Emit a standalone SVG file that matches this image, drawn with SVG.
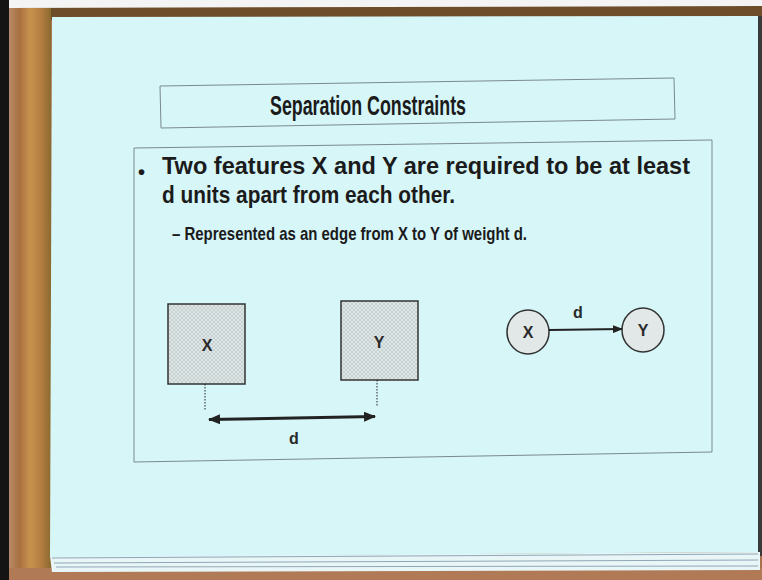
<svg xmlns="http://www.w3.org/2000/svg" width="762" height="580" viewBox="0 0 762 580">
<defs>
<style>
.t{font-family:"Liberation Sans",Arial,sans-serif;font-weight:bold;fill:#1b1b1b}
.lbl{font-family:"Liberation Sans",Arial,sans-serif;font-weight:bold;fill:#2a2a2a;font-size:16px;text-anchor:middle}
.box{stroke:#333;stroke-width:1.5;fill:url(#stip)}
.circ{stroke:#333;stroke-width:1.5;fill:#e2e8e8}
.frame{fill:none;stroke:#7a8a8c;stroke-width:1}
.conn{stroke:#222;fill:none}
</style>
<pattern id="stip" width="4" height="4" patternUnits="userSpaceOnUse">
<rect width="4" height="4" fill="#dfe6e6"/>
<path d="M0 0L4 4M4 0L0 4" stroke="#b9c3c4" stroke-width="0.6"/>
</pattern>
<linearGradient id="wood" x1="0" y1="0" x2="1" y2="0">
<stop offset="0" stop-color="#b88a6a"/>
<stop offset="0.25" stop-color="#a87040"/>
<stop offset="0.5" stop-color="#c8924e"/>
<stop offset="0.8" stop-color="#b07a3e"/>
<stop offset="1" stop-color="#8a6a30"/>
</linearGradient>
<marker id="ah" markerWidth="10" markerHeight="8" refX="9" refY="4" orient="auto-start-reverse" markerUnits="userSpaceOnUse">
<path d="M0 0L10 4L0 8Z" fill="#222"/>
</marker>
<marker id="ah2" markerWidth="12" markerHeight="10" refX="11" refY="5" orient="auto-start-reverse" markerUnits="userSpaceOnUse">
<path d="M0 0L12 5L0 10Z" fill="#222"/>
</marker>
</defs>
<!-- backdrop -->
<rect width="762" height="580" fill="#a8714a"/>
<rect x="0" y="0" width="762" height="8" fill="#f4f4f4"/>
<rect x="0" y="0" width="9" height="580" fill="#141414"/>
<path d="M9 8L762 6L762 18L9 20Z" fill="#6e4e2a"/>
<rect x="9" y="8" width="42" height="562" fill="url(#wood)"/>
<rect x="9" y="568" width="753" height="12" fill="#b07a56"/>
<rect x="758" y="16" width="4" height="540" fill="#3a3a3a"/>
<!-- paper stack -->
<path d="M50 556L760 552L760 570L52 572Z" fill="#e8f6f8"/>
<path d="M52 558L758 554M54 563L758 560M56 567L758 566" stroke="#8fa6b4" stroke-width="1" fill="none"/>
<!-- slide -->
<path d="M52 17L758 16L758 552L50 557Z" fill="#d6f6f8"/>
<g id="title">
<path class="frame" d="M160 86L674 78L675 119L161 128Z"/>
<text class="t" x="368" y="115" font-size="27" text-anchor="middle" textLength="196" lengthAdjust="spacingAndGlyphs">Separation Constraints</text>
</g>
<g id="content">
<path class="frame" d="M134 148L712 140L712 452L134 462Z"/>
<text class="t" x="138" y="179" font-size="20">•</text>
<text class="t" x="162" y="174" font-size="24" textLength="528" lengthAdjust="spacingAndGlyphs">Two features X and Y are required to be at least</text>
<text class="t" x="162" y="203" font-size="24" textLength="293" lengthAdjust="spacingAndGlyphs">d units apart from each other.</text>
<text class="t" x="172" y="240" font-size="19" textLength="355" lengthAdjust="spacingAndGlyphs">– Represented as an edge from X to Y of weight d.</text>
</g>
<g id="boxX">
<rect class="box" x="168" y="304" width="77" height="80"/>
<text class="lbl" x="207" y="351">X</text>
</g>
<g id="boxY">
<rect class="box" x="341" y="301" width="77" height="79"/>
<text class="lbl" x="379" y="348">Y</text>
</g>
<g id="circX">
<ellipse class="circ" cx="528" cy="332" rx="21" ry="22"/>
<text class="lbl" x="528" y="338">X</text>
</g>
<g id="circY">
<ellipse class="circ" cx="643" cy="330" rx="21" ry="22"/>
<text class="lbl" x="643" y="336">Y</text>
</g>
<g id="connectors">
<line class="conn" x1="205" y1="384" x2="205" y2="410" stroke-width="1" stroke-dasharray="1.5 1.5"/>
<line class="conn" x1="377" y1="380" x2="377" y2="406" stroke-width="1" stroke-dasharray="1.5 1.5"/>
<line class="conn" x1="209" y1="419.5" x2="375" y2="416.5" stroke-width="3" marker-start="url(#ah2)" marker-end="url(#ah2)"/>
<text class="lbl" x="294" y="444">d</text>
<line class="conn" x1="549" y1="330" x2="622" y2="329" stroke-width="2" marker-end="url(#ah)"/>
<text class="lbl" x="578" y="318">d</text>
</g>
</svg>
